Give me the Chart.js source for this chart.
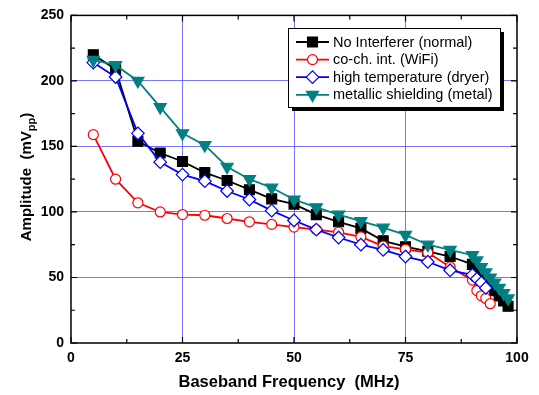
<!DOCTYPE html>
<html><head><meta charset="utf-8">
<script src="https://cdn.jsdelivr.net/npm/chart.js@4/dist/chart.umd.min.js"></script>
<style>html,body{margin:0;padding:0;background:#fff}#wrap{width:539px;height:395px}</style>
</head><body><div id="wrap"><canvas id="c" width="539" height="395"></canvas></div>
<script>
const xTicks = [0, 25, 50, 75, 100];
const yTicks = [0, 50, 100, 150, 200, 250];
const seriesNames = ["No Interferer (normal)", "co-ch. int. (WiFi)", "high temperature (dryer)", "metallic shielding (metal)"];

const normalX = [5,10,15,20,25,30,35,40,45,50,55,60,65,70,75,80,85,90,91,92,93,94,95,96,97,98];
const normalY = [220,209,154,145,138.5,130,124,117,110,106,98,92.5,87.5,78,73.5,70,66,60,56,52,48,44,40,36,32,28];

const wifiX = [5,10,15,20,25,30,35,40,45,50,55,60,65,70,75,80,85,90,91,92,93,94];
const wifiY = [159,125,107,100,98,97.5,95,92.5,90.5,88.5,86.5,84.5,81,74,71.5,69,58,48,40,36,34,30];

const tempX = [5,10,15,20,25,30,35,40,45,50,55,60,65,70,75,80,85,90,91,92,93];
const tempY = [214,203,160,138,128.5,123.5,116,109.5,101,93.5,86.5,80.5,75,71,66,62,55.5,52,49,46,42];

const metalX = [5,10,15,20,25,30,35,40,45,50,55,60,65,70,75,80,85,90,91,92,93,94,95,96,97,98];
const metalY = [216,212,200,180,160,151,134.5,125,118.5,109.5,103.5,98,93,88,82.5,75,71,67,63,58,54,50,46,42,38,34];

function pts(xs, ys){ return xs.map((x,i)=>({x:x, y:ys[i]})); }

const FONT = "'Liberation Sans', Arial, sans-serif";

const styles = [
  {color:'#000000', fill:'#000000', pointStyle:'rect', radius:7, rot:0, order:4},
  {color:'#ff0000', fill:'#ffffff', pointStyle:'circle', radius:5, rot:0, order:3},
  {color:'#0000ff', fill:'#ffffff', pointStyle:'rectRot', radius:6.3, rot:0, order:2},
  {color:'#008080', fill:'#008080', pointStyle:'triangle', radius:7, rot:180, order:1}
];
const dataSets = [pts(normalX,normalY), pts(wifiX,wifiY), pts(tempX,tempY), pts(metalX,metalY)];

const datasets = dataSets.map((d,i)=>({
  label: seriesNames[i],
  data: d,
  borderColor: styles[i].color,
  backgroundColor: styles[i].fill,
  pointBackgroundColor: styles[i].fill,
  pointBorderColor: styles[i].color,
  pointStyle: styles[i].pointStyle,
  pointRadius: styles[i].radius,
  pointRotation: styles[i].rot,
  pointBorderWidth: 1.2,
  borderWidth: 1.8,
  showLine: true,
  tension: 0,
  order: styles[i].order
}));

const frame = {
  id:'frame',
  afterDraw(chart){
    const ctx = chart.ctx, a = chart.chartArea, xs = chart.scales.x, ys = chart.scales.y;
    ctx.save();
    ctx.strokeStyle = '#000'; ctx.lineWidth = 1.5;
    ctx.strokeRect(a.left, a.top, a.right-a.left, a.bottom-a.top);
    ctx.lineWidth = 1.2;
    ctx.beginPath();
    for (let v=0; v<=100; v+=12.5){
      const px = xs.getPixelForValue(v); const L = (v%25===0)?6:4;
      ctx.moveTo(px, a.bottom); ctx.lineTo(px, a.bottom-L);
      ctx.moveTo(px, a.top); ctx.lineTo(px, a.top+L);
    }
    for (let v=0; v<=250; v+=25){
      const py = ys.getPixelForValue(v); const L = (v%50===0)?6:4;
      ctx.moveTo(a.left, py); ctx.lineTo(a.left+L, py);
      ctx.moveTo(a.right, py); ctx.lineTo(a.right-L, py);
    }
    ctx.stroke();

    // axis titles
    ctx.fillStyle = '#000';
    ctx.font = "bold 16.5px " + FONT;
    ctx.textAlign = 'center'; ctx.textBaseline = 'middle';
    ctx.fillText('Baseband Frequency  (MHz)', 289, 382);

    ctx.save();
    ctx.translate(27, 177);
    ctx.rotate(-Math.PI/2);
    const main = 'Amplitude  (mV', sub = 'pp', end = ')';
    ctx.font = "bold 15px " + FONT;
    const w1 = ctx.measureText(main).width, w3 = ctx.measureText(end).width;
    ctx.font = "bold 11px " + FONT;
    const w2 = ctx.measureText(sub).width;
    let x0 = -(w1+w2+w3)/2;
    ctx.textAlign = 'left';
    ctx.font = "bold 15px " + FONT;
    ctx.fillText(main, x0, 0);
    ctx.font = "bold 11px " + FONT;
    ctx.fillText(sub, x0+w1, 5);
    ctx.font = "bold 15px " + FONT;
    ctx.fillText(end, x0+w1+w2, 0);
    ctx.restore();

    // legend
    const lx = 288, ly = 28, lw = 212, lh = 79;
    ctx.fillStyle = '#000';
    ctx.fillRect(lx+4, ly+4, lw, lh);
    ctx.fillStyle = '#fff';
    ctx.fillRect(lx, ly, lw, lh);
    ctx.strokeStyle = '#000'; ctx.lineWidth = 1;
    ctx.strokeRect(lx+0.5, ly+0.5, lw, lh);
    ctx.font = "14.5px " + FONT;
    ctx.textAlign = 'left'; ctx.textBaseline = 'middle';
    chart.data.datasets.forEach((ds,i)=>{
      const cy = ly + 14 + i*17.6;
      ctx.strokeStyle = ds.borderColor; ctx.lineWidth = 1.8;
      ctx.beginPath(); ctx.moveTo(296, cy); ctx.lineTo(329, cy); ctx.stroke();
      ctx.lineWidth = 1.2;
      ctx.fillStyle = ds.pointBackgroundColor; ctx.strokeStyle = ds.pointBorderColor;
      Chart.helpers.drawPoint(ctx, {pointStyle: ds.pointStyle, radius: ds.pointRadius, rotation: ds.pointRotation, borderWidth: 1.2}, 312.5, cy);
      ctx.fillStyle = '#000';
      ctx.fillText(ds.label, 333, cy+0.5);
    });
    ctx.restore();
  }
};

const gridColor = (c) => {
  const v = c.tick && c.tick.value;
  return (v === c.scale.min || v === c.scale.max) ? 'rgba(0,0,0,0)' : 'rgba(60,60,255,0.7)';
};

new Chart(document.getElementById('c'), {
  type: 'scatter',
  data: { datasets },
  plugins: [frame],
  options: {
    responsive: false,
    animation: false,
    devicePixelRatio: 1,
    layout: { padding: { left: 0, top: 15, right: 22, bottom: 0 } },
    plugins: { legend: { display: false }, tooltip: { enabled: false } },
    scales: {
      x: {
        type: 'linear', min: 0, max: 100,
        afterBuildTicks: (s) => { s.ticks = xTicks.map(v=>({value:v})); },
        afterFit: (s) => { s.height = 52; },
        grid: { color: gridColor, lineWidth: 1, drawTicks: false },
        border: { display: false },
        ticks: { padding: 7, color: '#000', font: { family: FONT, size: 14, weight: 'bold' }, maxRotation: 0 }
      },
      y: {
        type: 'linear', min: 0, max: 250,
        afterBuildTicks: (s) => { s.ticks = yTicks.map(v=>({value:v})); },
        afterFit: (s) => { s.width = 71; },
        grid: { color: gridColor, lineWidth: 1, drawTicks: false },
        border: { display: false },
        ticks: { padding: 7, color: '#000', font: { family: FONT, size: 14, weight: 'bold' } }
      }
    }
  }
});
</script></body></html>
